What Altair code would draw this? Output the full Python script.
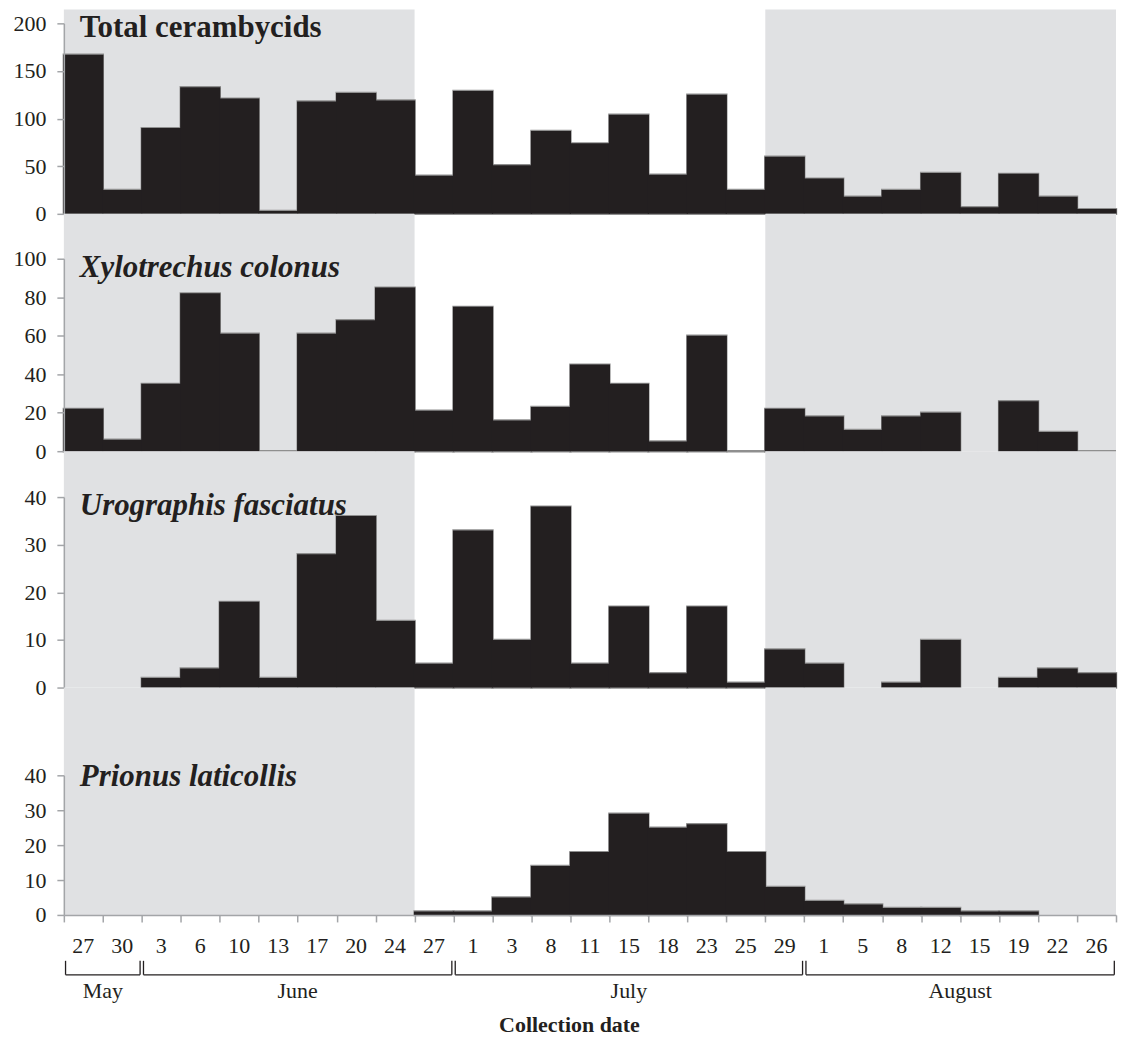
import altair as alt
import pandas as pd

# ---------------- data ----------------
days = ["27", "30", "3", "6", "10", "13", "17", "20", "24", "27", "1", "3", "8", "11",
        "15", "18", "23", "25", "29", "1", "5", "8", "12", "15", "19", "22", "26"]
months = ["May", "June", "July", "August"]
month_len = [2, 8, 9, 8]
shade_start = [0, 18]
shade_end = [9, 27]

total = [167, 25, 90, 133, 121, 3, 118, 127, 119, 40, 129, 51, 87, 74, 104, 41, 125, 25,
         60, 37, 18, 25, 43, 7, 42, 18, 5]
xylo = [22, 6, 35, 82, 61, 0, 61, 68, 85, 21, 75, 16, 23, 45, 35, 5, 60, 0,
        22, 18, 11, 18, 20, None, 26, 10, 0]
uro = [None, None, 2, 4, 18, 2, 28, 36, 14, 5, 33, 10, 38, 5, 17, 3, 17, 1,
       8, 5, None, 1, 10, None, 2, 4, 3]
prio = [None, None, None, None, None, None, None, None, None, 1, 1, 5, 14, 18, 29, 25, 26, 18,
        8, 4, 3, 2, 2, 1, 1, None, None]

# ---------------- style ----------------
FONT = "Liberation Serif"
INK = "#231f20"
BG = "#e0e1e3"
AX = "#a3a5a8"
EDGE = "#8f8f8f"
W = 1055
N = len(days)

xs = alt.Scale(domain=[0, N], nice=False, zero=False)


def x_axis(show):
    if not show:
        return None
    return alt.Axis(values=list(range(N + 1)), labels=False, title=None, grid=False,
                    domainColor=AX, domainWidth=1.5, tickColor=AX, tickWidth=1.5,
                    tickSize=7, zindex=1)


def panel(values, title, italic, ymax, step, H, top, title_y, bottom=False):
    xa = x_axis(bottom)
    df = pd.DataFrame({"day": days, "start": list(range(N)),
                       "end": list(range(1, N + 1)), "count": values}).dropna()
    ys = alt.Scale(domain=[0, ymax], range=[H, top], nice=False, zero=True)
    yaxis = alt.Axis(values=list(range(0, ymax + 1, step)), title=None, grid=False,
                     domainColor=AX, domainWidth=1.5, tickColor=AX, tickWidth=1.5,
                     tickSize=7, labelFont=FONT, labelFontSize=22, labelColor=INK,
                     labelPadding=11, minExtent=50, maxExtent=50, zindex=1)
    shade = alt.Chart(pd.DataFrame({"s": shade_start, "e": shade_end})).mark_rect(
        color=BG).encode(
        x=alt.X("s:Q", scale=xs, axis=xa), x2="e:Q",
        y=alt.value(0), y2=alt.value(H))
    base = alt.Chart(df).encode(
        x=alt.X("start:Q", scale=xs, axis=xa), x2="end:Q",
        y=alt.Y("count:Q", scale=ys, axis=yaxis), y2=alt.datum(0))
    # outline layer (only the outer silhouette stays visible) + solid fill on top
    outline = base.mark_rect(color=INK, stroke=EDGE, strokeWidth=2.4)
    fill = base.mark_rect(color=INK, strokeWidth=0, xOffset=-0.6, x2Offset=0.6)
    ttl = alt.Chart(pd.DataFrame({"t": [title]})).mark_text(
        font=FONT, fontSize=31, fontWeight="bold",
        fontStyle="italic" if italic else "normal",
        color=INK, align="left", baseline="alphabetic").encode(
        text="t:N", x=alt.value(16), y=alt.value(title_y))
    layers = [shade, outline, fill, ttl]
    if bottom:
        lab = pd.DataFrame({"day": days, "mid": [i + 0.5 for i in range(N)]})
        day_txt = alt.Chart(lab).mark_text(
            font=FONT, fontSize=22, color=INK, align="center", baseline="alphabetic").encode(
            x=alt.X("mid:Q", scale=xs, axis=xa), y=alt.value(266), text="day:N")
        ms, me = [], []
        acc = 0
        for L in month_len:
            ms.append(acc)
            acc += L
            me.append(acc)
        mdf = pd.DataFrame({"m": months, "ms": ms, "me": me,
                            "mm": [(a + b) / 2 for a, b in zip(ms, me)]})
        hline = alt.Chart(mdf).mark_rule(color=INK, strokeWidth=1.3,
                                         xOffset=1.7, x2Offset=-1.7).encode(
            x=alt.X("ms:Q", scale=xs, axis=xa), x2="me:Q", y=alt.value(288))
        lhook = alt.Chart(mdf).mark_rule(color=INK, strokeWidth=1.3, xOffset=1.7).encode(
            x=alt.X("ms:Q", scale=xs, axis=xa), y=alt.value(274), y2=alt.value(288))
        rhook = alt.Chart(mdf).mark_rule(color=INK, strokeWidth=1.3, xOffset=-1.7).encode(
            x=alt.X("me:Q", scale=xs, axis=xa), y=alt.value(274), y2=alt.value(288))
        mtxt = alt.Chart(mdf).mark_text(
            font=FONT, fontSize=22, color=INK, align="center", baseline="alphabetic").encode(
            x=alt.X("mm:Q", scale=xs, axis=xa), y=alt.value(311), text="m:N")
        xtitle = alt.Chart(pd.DataFrame({"t": ["Collection date"]})).mark_text(
            font=FONT, fontSize=22, fontWeight="bold", color=INK,
            align="center", baseline="alphabetic").encode(
            text="t:N", x=alt.value(507), y=alt.value(345))
        layers += [day_txt, hline, lhook, rhook, mtxt, xtitle]
    return alt.layer(*layers).properties(width=W, height=H)


p1 = panel(total, "Total cerambycids", False, 200, 50, 205, 14, 28)
p2 = panel(xylo, "Xylotrechus colonus", True, 100, 20, 238, 45, 63)
p3 = panel(uro, "Urographis fasciatus", True, 40, 10, 237, 46, 64)
p4 = panel(prio, "Prionus laticollis", True, 40, 10, 228, 88, 99, bottom=True)

chart = alt.vconcat(p1, p2, p3, p4, spacing=0, bounds="flush").properties(
    padding={"left": 5, "top": 0, "right": 0, "bottom": 0}
).configure_view(stroke=None)

chart.save("out.html", embed_options={"renderer": "svg", "actions": False})
